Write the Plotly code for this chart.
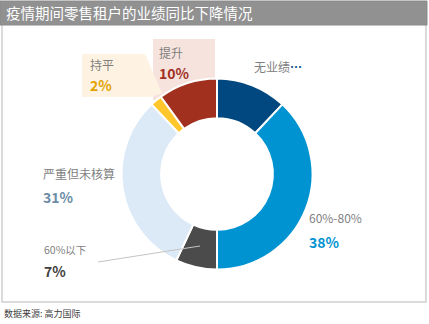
import plotly.graph_objects as go

categories = ["无业绩", "60%-80%", "60%以下", "严重但未核算", "持平", "提升"]
values = [12, 38, 7, 31, 2, 10]
colors = ["#00487F", "#0093D1", "#4B4B4B", "#DCEAF7", "#FFC72C", "#A1301F"]

W, H = 429, 324
FONT = "Noto Sans CJK SC"

def px(x):
    return x / W

def py(y):
    return 1 - y / H

cx, cy, R = 217, 174, 95.5

fig = go.Figure(go.Pie(
    labels=categories, values=values, sort=False, direction="clockwise",
    rotation=0, hole=0.585, textinfo="none", hoverinfo="label+percent",
    marker=dict(colors=colors, line=dict(color="white", width=2)),
    domain=dict(x=[px(cx - R), px(cx + R)], y=[py(cy + R), py(cy - R)]),
    showlegend=False,
))

shapes = [
    dict(type="rect", xref="paper", yref="paper", x0=px(2), x1=px(426), y0=py(302), y1=py(24),
         line=dict(color="#CFCFCF", width=1.5), fillcolor="white", layer="below"),
    dict(type="rect", xref="paper", yref="paper", x0=px(0), x1=px(427), y0=py(25), y1=py(1),
         line=dict(color="#8A8A8A", width=1), fillcolor="#919191", layer="below"),
    dict(type="rect", xref="paper", yref="paper", x0=px(153), x1=px(215), y0=py(100), y1=py(39),
         line=dict(width=0), fillcolor="#F6E3DE", layer="below"),
    dict(type="path", xref="paper", yref="paper",
         path=f"M {px(82)} {py(54)} L {px(145)} {py(54)} L {px(162)} {py(93)} L {px(150)} {py(97)} L {px(82)} {py(97)} Z",
         line=dict(width=0), fillcolor="#FEF3E3", layer="below"),
    dict(type="line", xref="paper", yref="paper", x0=px(98), y0=py(262), x1=px(200), y1=py(246),
         line=dict(color="#C4C4C4", width=1), layer="above"),
]

def ann(x, y, text, size, color, bold=False):
    t = f"<b>{text}</b>" if bold else text
    return dict(xref="paper", yref="paper", x=px(x), y=py(y), text=t, showarrow=False,
                xanchor="left", yanchor="middle",
                font=dict(family=FONT, size=size, color=color))

annotations = [
    ann(4, 13, "疫情期间零售租户的业绩同比下降情况", 14.5, "white"),
    ann(252, 66, "无业绩<span style='color:#00487F'><b>…</b></span>", 12, "#7F7F7F"),
    ann(157, 52, "提升", 12, "#7F7F7F"),
    ann(157, 73, "10%", 14, "#A1301F", True),
    ann(88, 64, "持平", 12, "#7F7F7F"),
    ann(88, 85, "2%", 14, "#E1A200", True),
    ann(41, 173, "严重但未核算", 12, "#7F7F7F"),
    ann(41, 197, "31%", 14, "#6D8CA6", True),
    ann(42, 249, "60%以下", 10.5, "#7F7F7F"),
    ann(42, 271, "7%", 14, "#404040", True),
    ann(307, 217, "60%-80%", 12, "#7F7F7F"),
    ann(307, 242, "38%", 14, "#0093D1", True),
    ann(2, 313, "数据来源: 高力国际", 9, "#404040"),
]

fig.update_layout(
    width=W, height=H, margin=dict(l=0, r=0, t=0, b=0),
    paper_bgcolor="white", plot_bgcolor="white",
    shapes=shapes, annotations=annotations,
    font=dict(family=FONT),
)

fig.write_html("out.html", config={"displayModeBar": False})
